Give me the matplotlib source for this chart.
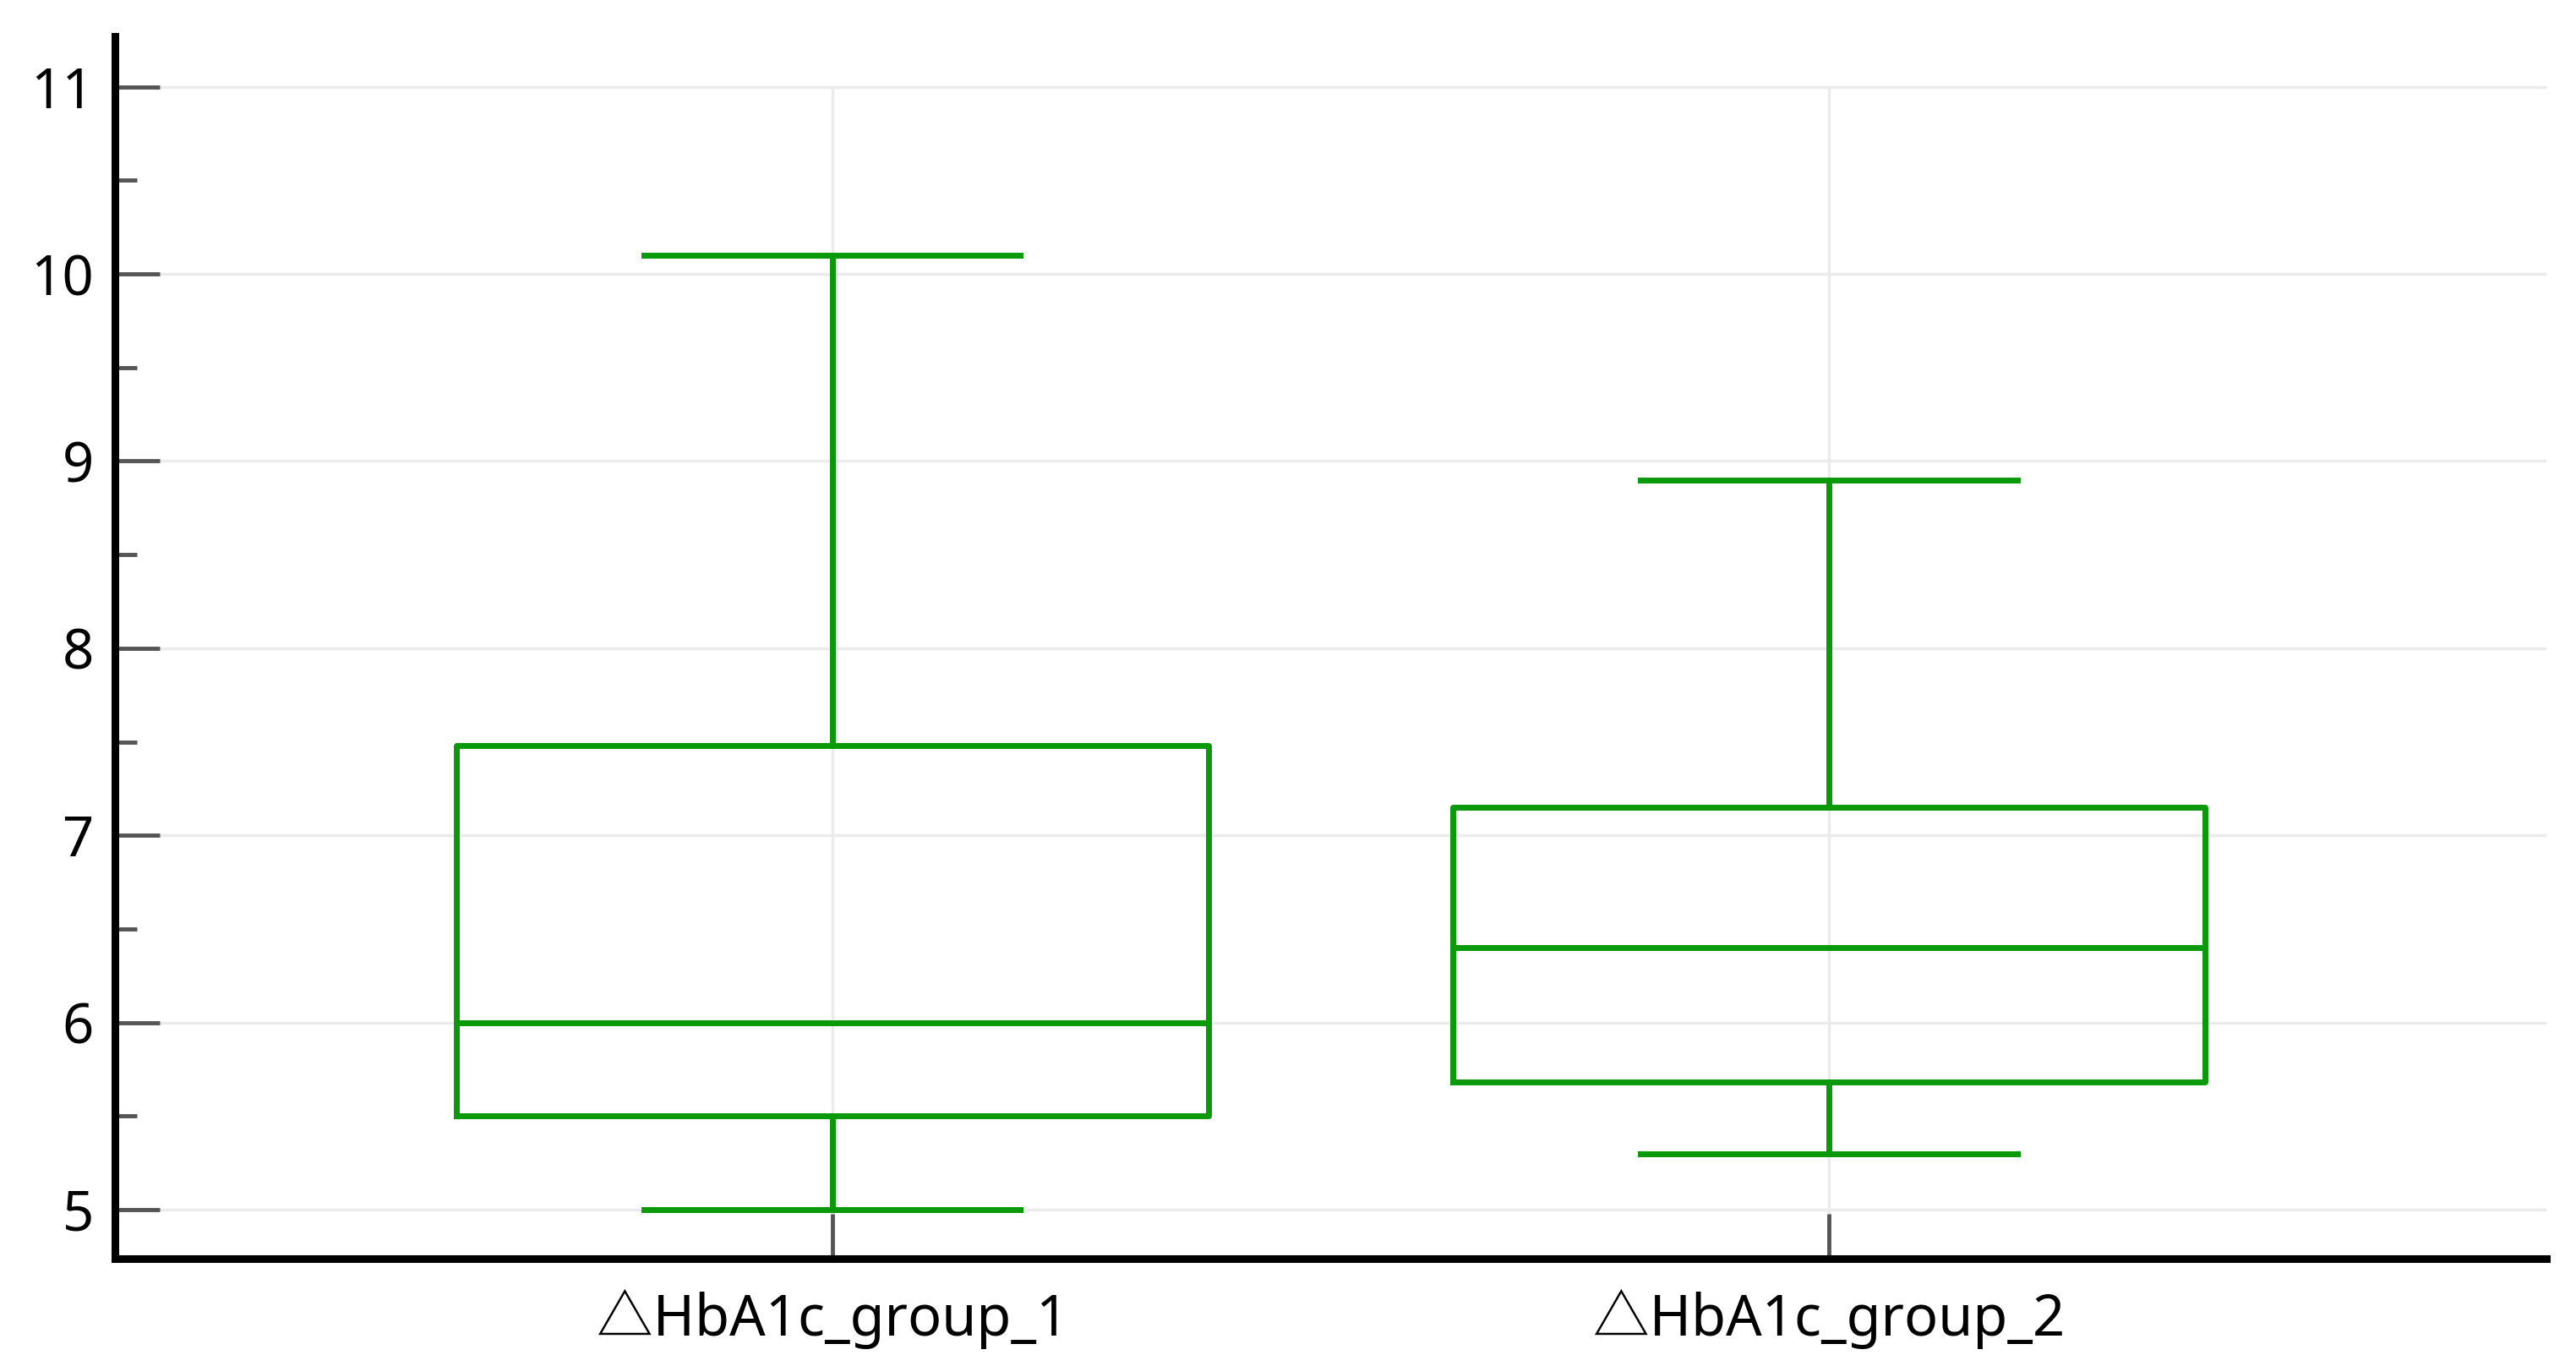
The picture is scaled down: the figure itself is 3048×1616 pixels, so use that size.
import matplotlib.pyplot as plt
from matplotlib.ticker import MultipleLocator

plt.rcParams['font.family'] = ['Noto Sans', 'DejaVu Sans']

# box statistics
labels = ["\u25b3HbA1c_group_1", "\u25b3HbA1c_group_2"]
positions = [1, 2]
whislo = [5.0, 5.3]
q1 = [5.50, 5.68]
med = [6.0, 6.4]
q3 = [7.48, 7.15]
whishi = [10.1, 8.9]

green = "#0a990a"

stats = []
for i in range(len(labels)):
    stats.append({
        "label": labels[i],
        "whislo": whislo[i], "q1": q1[i], "med": med[i],
        "q3": q3[i], "whishi": whishi[i], "fliers": [],
    })

fig = plt.figure(figsize=(30.48, 16.16), dpi=100)
ax = fig.add_axes([0.0446, 0.0786, 0.9439, 0.8948])

lw = 5
ax.bxp(stats, positions=positions, widths=0.755, showfliers=False,
       boxprops=dict(color=green, linewidth=lw),
       whiskerprops=dict(color=green, linewidth=lw),
       capprops=dict(color=green, linewidth=lw),
       medianprops=dict(color=green, linewidth=lw),
       zorder=3)

ymin, ymax = 4.738, 11.27
ax.set_xlim(0.28, 2.72)
ax.set_ylim(ymin, ymax)

ax.yaxis.set_major_locator(MultipleLocator(1))
ax.yaxis.set_minor_locator(MultipleLocator(0.5))

# horizontal grid across, vertical grid only up to the top tick
ax.grid(True, axis="y", which="major", color="#ebebeb", linewidth=2.5, zorder=0)
ax.vlines(positions, ymin, 11, color="#ebebeb", linewidth=2.5, zorder=0)
ax.set_axisbelow(True)

for s in ["top", "right"]:
    ax.spines[s].set_visible(False)
for s in ["left", "bottom"]:
    ax.spines[s].set_linewidth(6.5)
    ax.spines[s].set_color("black")

ax.tick_params(axis="both", which="major", direction="in", length=38,
               width=3.5, color="#555555", labelsize=47, pad=18)
ax.tick_params(axis="y", which="minor", direction="in", length=19,
               width=3.5, color="#555555")
ax.tick_params(axis="x", which="major", labelsize=48, pad=26)
for t in ax.get_xticklabels():
    t.set_family(['Noto Sans', 'Noto Sans CJK SC', 'DejaVu Sans'])

plt.savefig("out.png", dpi=100)
